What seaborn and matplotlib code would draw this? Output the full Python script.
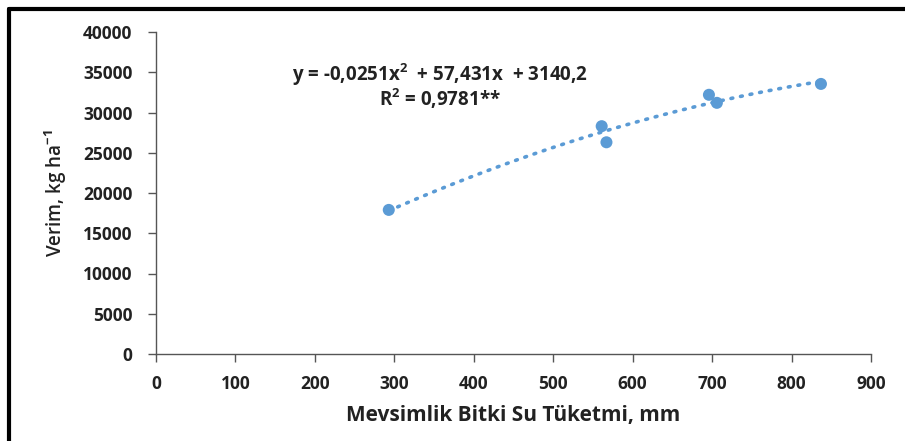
import matplotlib
matplotlib.use("Agg")
import matplotlib.pyplot as plt
import seaborn as sns
import pandas as pd
from matplotlib.lines import Line2D

# Data
water_use = [293, 561, 567, 696, 706, 837]
yield_kg = [17900, 28300, 26300, 32200, 31200, 33550]
x_ticks = [0, 100, 200, 300, 400, 500, 600, 700, 800, 900]
y_ticks = [0, 5000, 10000, 15000, 20000, 25000, 30000, 35000, 40000]
equation = "y = -0,0251x$^{2}$  + 57,431x  + 3140,2"
r2_text = "R$^{2}$ = 0,9781**"
xlabel = "Mevsimlik Bitki Su Tüketmi, mm"
ylabel = "Verim, kg ha$^{-1}$"

sns.set_style("white")
plt.rcParams['font.family'] = ['Open Sans', 'DejaVu Sans']
plt.rcParams['mathtext.fontset'] = 'custom'
plt.rcParams['mathtext.rm'] = 'Open Sans:bold'
plt.rcParams['mathtext.it'] = 'Open Sans:bold'
plt.rcParams['mathtext.bf'] = 'Open Sans:bold'

df = pd.DataFrame({"x": water_use, "y": yield_kg})

fig = plt.figure(figsize=(9.05, 4.41), dpi=100)
ax = fig.add_axes([156/905, 1-354/441, (871-156)/905, (354-32)/441])

color = "#5B9BD5"
sns.regplot(data=df, x="x", y="y", order=2, ci=None, ax=ax, truncate=True,
            scatter_kws=dict(s=75, color=color, edgecolor="none", alpha=1, zorder=3),
            line_kws=dict(color=color, linestyle=(0, (0.5, 2.2)), linewidth=2.6,
                          dash_capstyle="round"))

ax.set_xlim(0, 900)
ax.set_ylim(0, 40000)
ax.set_xticks(x_ticks)
ax.set_yticks(y_ticks)
ax.set_xticklabels([str(v) for v in x_ticks])
ax.set_yticklabels([str(v) for v in y_ticks])
ax.tick_params(axis="both", direction="out", length=6, width=1, color="#555555",
               bottom=True, left=True, labelcolor="#222222")
ax.tick_params(axis="y", pad=11)
ax.tick_params(axis="x", pad=9)
for lbl in ax.get_xticklabels() + ax.get_yticklabels():
    lbl.set_fontweight("bold")
    lbl.set_fontsize(12.5)
    lbl.set_fontfamily("Open Sans")
for s in ["top", "right"]:
    ax.spines[s].set_visible(False)
for s in ["left", "bottom"]:
    ax.spines[s].set_color("#555555")
    ax.spines[s].set_linewidth(1)

ax.set_xlabel(xlabel, fontsize=15, fontweight="bold", color="#222222", labelpad=9)
ax.set_ylabel(ylabel, fontsize=13.5, fontweight="semibold", color="#222222", labelpad=10)

ax.text(358, 34700, equation, fontsize=13.5, fontweight="bold", ha="center", va="center",
        color="#222222")
ax.text(358, 31700, r2_text, fontsize=13.5, fontweight="bold", ha="center", va="center",
        color="#222222")

# Outer frame (left and top)
fig.add_artist(Line2D([9/905, 9/905], [0, 1-9/441], transform=fig.transFigure,
                      color="black", linewidth=3))
fig.add_artist(Line2D([9/905, 1], [1-9/441, 1-9/441], transform=fig.transFigure,
                      color="black", linewidth=3))

fig.savefig("out.png", dpi=100)
